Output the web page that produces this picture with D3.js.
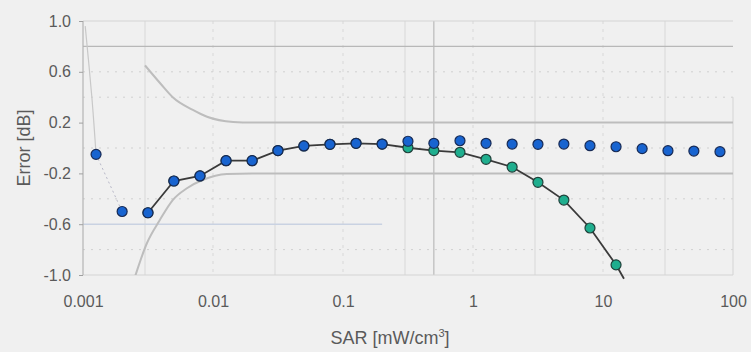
<!DOCTYPE html>
<html><head><meta charset="utf-8">
<script src="https://cdn.jsdelivr.net/npm/d3@7/dist/d3.min.js"></script>
<style>
html,body{margin:0;padding:0;background:#f0f0f0;}
svg{display:block;}
text{font-family:"Liberation Sans",Arial,sans-serif;fill:#5a5a5a;}
</style></head>
<body>
<svg id="chart" width="751" height="352"></svg>
<script>
// ---- data ----
const sar = [0.00126, 0.002, 0.00316, 0.005, 0.00794, 0.0126, 0.02, 0.0316, 0.05, 0.0794, 0.126, 0.2, 0.316, 0.5, 0.794, 1.26, 2, 3.16, 5, 7.94, 12.6, 20, 31.6, 50, 79.4];
const errBlue = [-0.05, -0.50, -0.51, -0.26, -0.22, -0.10, -0.10, -0.02, 0.016, 0.029, 0.037, 0.031, 0.053, 0.037, 0.057, 0.037, 0.031, 0.029, 0.031, 0.018, 0.010, -0.005, -0.021, -0.024, -0.029];
const errGreen = [null, null, -0.51, -0.26, -0.22, -0.10, -0.10, -0.02, 0.016, 0.029, 0.037, 0.031, 0.002, -0.02, -0.034, -0.089, -0.15, -0.27, -0.41, -0.63, -0.92, null, null, null, null];
const greenTailX = [14.5];
const greenTailY = [-1.03];
const upperLimX = [0.003, 0.004, 0.0049, 0.007, 0.009, 0.0143, 0.02, 100];
const upperLimY = [0.65, 0.50, 0.40, 0.30, 0.246, 0.205, 0.2, 0.2];
const lowerLimX = [0.0025, 0.0031, 0.0039, 0.0049, 0.0063, 0.0084, 0.0128, 0.02, 100];
const lowerLimY = [-1.02, -0.75, -0.567, -0.41, -0.317, -0.25, -0.205, -0.2, -0.2];
const leftLimX = [0.00104, 0.0011, 0.00117, 0.00126];
const leftLimY = [0.96, 0.70, 0.40, -0.05];
const xTicks = [0.001, 0.01, 0.1, 1, 10, 100];
const xTickLabels = ["0.001", "0.01", "0.1", "1", "10", "100"];
const yTicks = [1.0, 0.6, 0.2, -0.2, -0.6, -1.0];
const yTickLabels = ["1.0", "0.6", "0.2", "-0.2", "-0.6", "-1.0"];
const vGrid = [0.003, 0.01, 0.03, 0.1, 0.3, 1, 3, 10, 30];
const vGridDark = [0.5];
const hGridSolid = [1.0, 0.8, -1.0];
const hGridDash = [0.6, 0.4, 0.0, -0.4, -0.8];
const hGridBlue = [-0.6];
const xTitle = "SAR [mW/cm";
const xTitleSup = "3";
const yTitle = "Error [dB]";

// ---- layout ----
const svg = d3.select("#chart");
const x = d3.scaleLog().domain([0.001, 100]).range([83, 733]);
const y = d3.scaleLinear().domain([-1, 1]).range([275, 21]);

svg.append("defs").append("clipPath").attr("id","plotclip")
  .append("rect").attr("x",83).attr("y",21).attr("width",650).attr("height",254);

const g = svg.append("g");
// grid
g.selectAll(".vg").data(vGrid).join("line")
  .attr("x1",d=>x(d)).attr("x2",d=>x(d)).attr("y1",y(1)).attr("y2",y(-1))
  .attr("stroke","#d8d8d8").attr("stroke-width",1).attr("stroke-dasharray",(d,i)=> i%2? "3,5":null);
g.selectAll(".vgd").data(vGridDark).join("line")
  .attr("x1",d=>x(d)).attr("x2",d=>x(d)).attr("y1",y(1)).attr("y2",y(-1))
  .attr("stroke","#b0b0b0").attr("stroke-width",1);
g.selectAll(".hgs").data(hGridSolid).join("line")
  .attr("x1",x(0.001)).attr("x2",x(100)).attr("y1",d=>y(d)).attr("y2",d=>y(d))
  .attr("stroke",d=> d===0.8 ? "#b8b8b8" : "#d4d4d4").attr("stroke-width",1.2);
g.selectAll(".hgd").data(hGridDash).join("line")
  .attr("x1",x(0.001)).attr("x2",x(100)).attr("y1",d=>y(d)).attr("y2",d=>y(d))
  .attr("stroke","#d0d0d0").attr("stroke-width",1).attr("stroke-dasharray","2,6");
g.selectAll(".hgb").data(hGridBlue).join("line")
  .attr("x1",x(0.001)).attr("x2",x(0.2)).attr("y1",d=>y(d)).attr("y2",d=>y(d))
  .attr("stroke","#c9d2e2").attr("stroke-width",1.4);

// axes lines
g.append("line").attr("x1",x(0.001)).attr("x2",x(0.001)).attr("y1",y(1)).attr("y2",y(-1))
  .attr("stroke","#b4b4b4").attr("stroke-width",1.2);
g.append("line").attr("x1",x(100)).attr("x2",x(100)).attr("y1",y(0.4)).attr("y2",y(-1))
  .attr("stroke","#d4d4d4").attr("stroke-width",1);

// y axis ticks
const yAxis = d3.axisLeft(y).tickValues(yTicks).tickFormat((d,i)=>yTickLabels[i]).tickSize(4).tickPadding(8);
const ya = svg.append("g").attr("transform",`translate(${x(0.001)},0)`).call(yAxis);
ya.select(".domain").remove();
ya.selectAll("line").attr("stroke","#a0a0a0");
ya.selectAll("text").attr("font-size",16).attr("fill","#606060");

// x axis ticks
const xAxis = d3.axisBottom(x).tickValues(xTicks).tickFormat((d,i)=>xTickLabels[i]).tickSize(0).tickPadding(21);
const xa = svg.append("g").attr("transform",`translate(0,${y(-1)})`).call(xAxis);
xa.select(".domain").remove();
xa.selectAll("text").attr("font-size",16).attr("fill","#606060");

// limit curves
const line = d3.line().x(d=>x(d[0])).y(d=>y(d[1]));
const clipG = svg.append("g").attr("clip-path","url(#plotclip)");
clipG.append("path").datum(upperLimX.map((v,i)=>[v,upperLimY[i]]))
  .attr("d",line.curve(d3.curveMonotoneX)).attr("fill","none").attr("stroke","#bdbdbd").attr("stroke-width",2);
clipG.append("path").datum(lowerLimX.map((v,i)=>[v,lowerLimY[i]]))
  .attr("d",line.curve(d3.curveMonotoneX)).attr("fill","none").attr("stroke","#bdbdbd").attr("stroke-width",2);
clipG.append("path").datum(leftLimX.map((v,i)=>[v,leftLimY[i]]))
  .attr("d",d3.line().x(d=>x(d[0])).y(d=>y(d[1])).curve(d3.curveMonotoneY)).attr("fill","none").attr("stroke","#c8c8c8").attr("stroke-width",1.2);
// dotted link between first two blue points
clipG.append("path").datum([[sar[0],errBlue[0]],[sar[1],errBlue[1]]])
  .attr("d",d3.line().x(d=>x(d[0])).y(d=>y(d[1]))).attr("fill","none")
  .attr("stroke","#b8b8c8").attr("stroke-width",1).attr("stroke-dasharray","2,3");

// green series line
const greenPts = sar.map((v,i)=>[v,errGreen[i]]).filter(d=>d[1]!==null)
  .concat(greenTailX.map((v,i)=>[v,greenTailY[i]]));
svg.append("path").datum(greenPts)
  .attr("d",d3.line().x(d=>x(d[0])).y(d=>y(d[1]))).attr("fill","none")
  .attr("stroke","#3a3a3a").attr("stroke-width",1.8);

// markers
svg.selectAll(".gm").data(sar.map((v,i)=>[v,errGreen[i]]).filter(d=>d[1]!==null)).join("circle")
  .attr("cx",d=>x(d[0])).attr("cy",d=>y(d[1])).attr("r",5)
  .attr("fill","#1fae8e").attr("stroke","#20403a").attr("stroke-width",1.2);
svg.selectAll(".bm").data(sar.map((v,i)=>[v,errBlue[i]])).join("circle")
  .attr("cx",d=>x(d[0])).attr("cy",d=>y(d[1])).attr("r",5)
  .attr("fill","#1864d0").attr("stroke","#172a55").attr("stroke-width",1.2);

// titles
const xt = svg.append("text").attr("x",390).attr("y",344).attr("text-anchor","middle")
  .attr("font-size",18);
xt.append("tspan").text(xTitle);
xt.append("tspan").text(xTitleSup).attr("font-size",11).attr("dy",-7);
xt.append("tspan").text("]").attr("dy",7);
svg.append("text").attr("transform","translate(30,148) rotate(-90)").attr("text-anchor","middle")
  .attr("font-size",18).text(yTitle);
</script>
</body></html>
